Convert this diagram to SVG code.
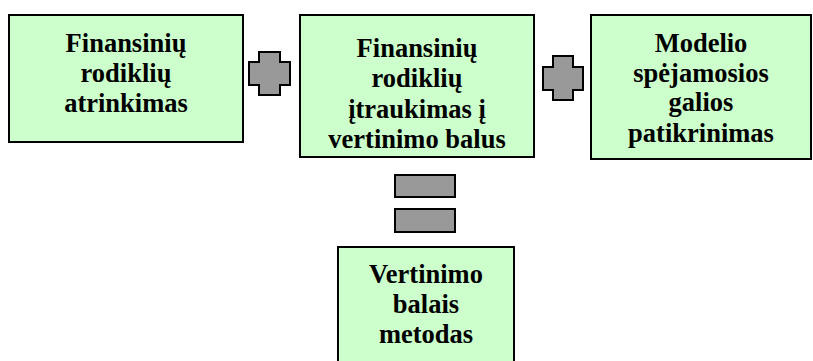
<svg xmlns="http://www.w3.org/2000/svg" width="813" height="361" viewBox="0 0 813 361">
  <style>
    .box { fill: #ccffcc; stroke: #000; stroke-width: 2; }
    .op { fill: #999999; stroke: #000; stroke-width: 2; stroke-linejoin: miter; }
    .lbl { font-family: "Liberation Serif", "Times New Roman", serif; font-weight: bold; font-size: 26.5px; fill: #000; text-anchor: middle; }
  </style>

  <!-- step nodes -->
  <g id="node-atrinkimas">
    <rect class="box" x="9" y="15" width="234" height="127"/>
    <text class="lbl" x="126"><tspan x="126" y="52">Finansinių</tspan><tspan x="126" y="82">rodiklių</tspan><tspan x="126" y="112">atrinkimas</tspan></text>
  </g>

  <g id="node-itraukimas">
    <rect class="box" x="300" y="15" width="234" height="142"/>
    <text class="lbl"><tspan x="417" y="57">Finansinių</tspan><tspan x="417" y="87">rodiklių</tspan><tspan x="417" y="118">įtraukimas į</tspan><tspan x="417" y="148">vertinimo balus</tspan></text>
  </g>

  <g id="node-patikrinimas">
    <rect class="box" x="591" y="15" width="220" height="144"/>
    <text class="lbl"><tspan x="701" y="52">Modelio</tspan><tspan x="701" y="82">spėjamosios</tspan><tspan x="701" y="111">galios</tspan><tspan x="701" y="142">patikrinimas</tspan></text>
  </g>

  <g id="node-metodas">
    <rect class="box" x="338" y="247" width="176" height="120"/>
    <text class="lbl"><tspan x="426" y="283">Vertinimo</tspan><tspan x="426" y="313">balais</tspan><tspan x="426" y="343">metodas</tspan></text>
  </g>

  <!-- plus / equals operators between steps -->
  <g id="connectors">
    <path class="op" d="M259,52 H280 V62 H290 V85 H280 V95 H259 V85 H249 V62 H259 Z"/>
    <path class="op" d="M553,56 H573 V67 H583 V90 H573 V100 H553 V90 H543 V67 H553 Z"/>
    <rect class="op" x="395" y="175" width="60" height="22"/>
    <rect class="op" x="395" y="209" width="60" height="23"/>
  </g>
</svg>
